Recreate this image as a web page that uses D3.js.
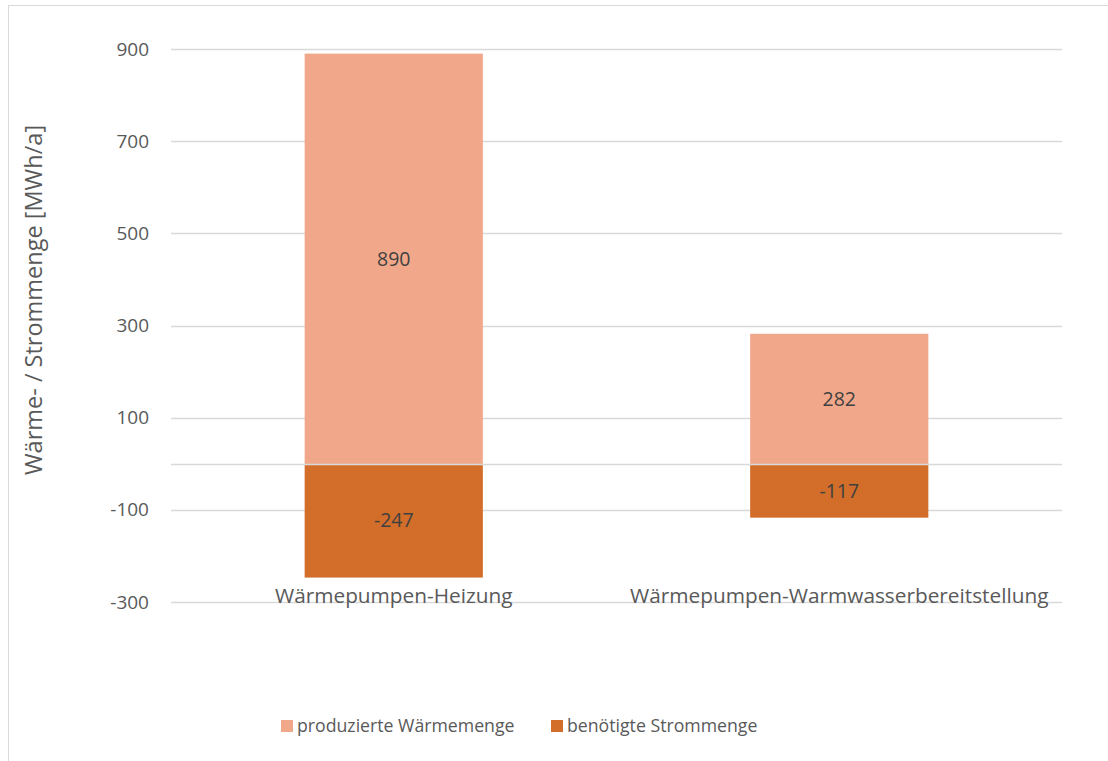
<!DOCTYPE html>
<html><head><meta charset="utf-8">
<script src="https://cdn.jsdelivr.net/npm/d3@7"></script>
<style>body{margin:0;background:#fff;} svg{display:block;font-family:"Open Sans","Noto Sans",sans-serif;}</style>
</head><body>
<script>
const categories = ["Wärmepumpen-Heizung", "Wärmepumpen-Warmwasserbereitstellung"];
const seriesNames = ["produzierte Wärmemenge", "benötigte Strommenge"];
const waerme = [890, 282];
const strom = [-247, -117];
const tickValues = [-300, -100, 100, 300, 500, 700, 900];
const colors = ["#F1A88A", "#D26E2A"];
const yTitle = "Wärme- / Strommenge [MWh/a]";

(function () {
const W = 1108, H = 761;
const svg = d3.select("body").append("svg").attr("width", W).attr("height", H);

// outer chart border
svg.append("rect").attr("x", 8.5).attr("y", 5.5).attr("width", 1120).attr("height", 780)
  .attr("fill", "none").attr("stroke", "#D9D9D9").attr("stroke-width", 1);

const pl = 171, pr = 1062, pt = 49, pb = 602;
const y = d3.scaleLinear().domain([-300, 900]).range([pb, pt]);
const x = d3.scaleBand().domain(categories).range([pl, pr]).paddingInner(0.6).paddingOuter(0.3);

// gridlines
svg.append("g").selectAll("line").data(tickValues).join("line")
  .attr("x1", pl).attr("x2", pr)
  .attr("y1", d => Math.round(y(d)) + 0.5).attr("y2", d => Math.round(y(d)) + 0.5)
  .attr("stroke", "#D9D9D9").attr("stroke-width", 1.3);

// tick labels
svg.append("g").selectAll("text").data(tickValues).join("text")
  .attr("x", 149).attr("y", d => y(d)).attr("dy", "0.35em")
  .attr("text-anchor", "end").attr("fill", "#595959").attr("font-size", 19)
  .text(d => d);

const series = [waerme, strom];
series.forEach((vals, si) => {
  const g = svg.append("g");
  g.selectAll("rect").data(categories).join("rect")
    .attr("x", c => x(c)).attr("width", x.bandwidth())
    .attr("y", (c, i) => y(Math.max(0, vals[i])))
    .attr("height", (c, i) => Math.abs(y(vals[i]) - y(0)))
    .attr("fill", colors[si]);
  g.selectAll("text").data(categories).join("text")
    .attr("x", c => x(c) + x.bandwidth() / 2)
    .attr("y", (c, i) => (y(vals[i]) + y(0)) / 2).attr("dy", "0.35em")
    .attr("text-anchor", "middle").attr("fill", "#404040").attr("font-size", 19.5)
    .text((c, i) => vals[i]);
});

// zero axis line
svg.append("line").attr("x1", pl).attr("x2", pr)
  .attr("y1", Math.round(y(0)) + 0.5).attr("y2", Math.round(y(0)) + 0.5)
  .attr("stroke", "#D9D9D9").attr("stroke-width", 1.3);

// category labels
svg.append("g").selectAll("text").data(categories).join("text")
  .attr("x", c => x(c) + x.bandwidth() / 2).attr("y", 596).attr("dy", "0.35em")
  .attr("text-anchor", "middle").attr("fill", "#595959").attr("font-size", 20.8)
  .text(c => c);

// y axis title
svg.append("text").attr("transform", "translate(34,300) rotate(-90)")
  .attr("text-anchor", "middle").attr("dy", "0.35em").attr("fill", "#595959").attr("font-size", 23.5)
  .text(yTitle);

// legend
const legendX = [281, 551];
const lg = svg.append("g").selectAll("g").data(seriesNames).join("g")
  .attr("transform", (d, i) => `translate(${legendX[i]},726)`);
lg.append("rect").attr("x", 0).attr("y", -6).attr("width", 12).attr("height", 12)
  .attr("fill", (d, i) => colors[i]);
lg.append("text").attr("x", 16).attr("dy", "0.35em").attr("fill", "#595959").attr("font-size", 17.7)
  .text(d => d);
})();
</script>
</body></html>
